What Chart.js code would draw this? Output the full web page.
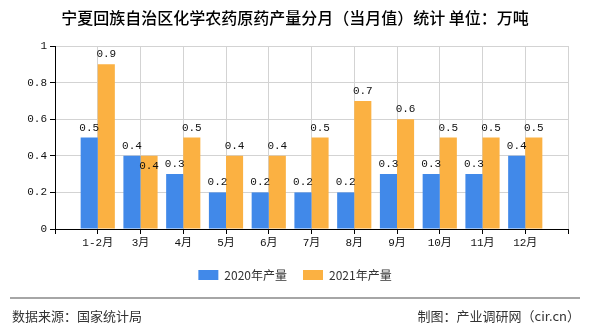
<!DOCTYPE html>
<html>
<head>
<meta charset="utf-8">
<script src="https://cdn.jsdelivr.net/npm/chart.js@4.4.0/dist/chart.umd.min.js"></script>
<style>
  html, body { margin: 0; padding: 0; background: #fff; }
  #wrap { width: 590px; height: 330px; position: relative; }
</style>
</head>
<body>
<div id="wrap"><canvas id="chart" width="590" height="330"></canvas></div>
<script>
// categories, padded with an empty slot at each end like the original
var months = ['1-2月', '3月', '4月', '5月', '6月', '7月', '8月', '9月', '10月', '11月', '12月'];
var output2020 = [0.5, 0.4, 0.3, 0.2, 0.2, 0.2, 0.2, 0.3, 0.3, 0.3, 0.4];
var output2021 = [0.9, 0.4, 0.5, 0.4, 0.4, 0.5, 0.7, 0.6, 0.5, 0.5, 0.5];
var yTicks = [0, 0.2, 0.4, 0.6, 0.8, 1];

var titleText = '宁夏回族自治区化学农药原药产量分月（当月值）统计 单位：万吨';
var sourceText = '数据来源：国家统计局';
var makerText = '制图：产业调研网（cir.cn）';

var labels = [''].concat(months, ['']);
function pad(arr) { return [null].concat(arr, [null]); }

var cjk = '"Noto Sans CJK SC", sans-serif';
var mono = '"Liberation Mono", "Noto Sans CJK SC", monospace';

var decorPlugin = {
    id: 'decor',
    beforeDraw: function(chart) {
        var ctx = chart.ctx;
        ctx.save();
        ctx.fillStyle = '#fff';
        ctx.fillRect(0, 0, chart.width, chart.height);
        ctx.fillStyle = '#000';
        ctx.font = '500 16px ' + cjk;
        ctx.textAlign = 'center';
        ctx.textBaseline = 'middle';
        ctx.fillText(titleText, 295, 18);

        ctx.strokeStyle = '#888';
        ctx.lineWidth = 1.5;
        ctx.beginPath();
        ctx.moveTo(10, 298);
        ctx.lineTo(580, 298);
        ctx.stroke();

        ctx.fillStyle = '#333';
        ctx.font = '13px ' + cjk;
        ctx.textAlign = 'left';
        ctx.fillText(sourceText, 12, 316);
        ctx.textAlign = 'right';
        ctx.fillText(makerText, 580, 316);
        ctx.restore();
    }
};

var valueLabels = {
    id: 'valueLabels',
    afterDatasetsDraw: function(chart) {
        var ctx = chart.ctx;
        ctx.save();
        ctx.fillStyle = '#111';
        ctx.font = '11px ' + mono;
        ctx.textAlign = 'center';
        ctx.textBaseline = 'alphabetic';
        chart.data.datasets.forEach(function(ds, di) {
            var meta = chart.getDatasetMeta(di);
            meta.data.forEach(function(bar, i) {
                var v = ds.data[i];
                if (v == null) return;
                var y = bar.y - 7;
                // same value as the other series: label goes just inside the bar
                if (di > 0 && chart.data.datasets[0].data[i] === v) y = bar.y + 13;
                ctx.fillText(v.toFixed(1), bar.x, y);
            });
        });
        ctx.restore();
    }
};

var ctx = document.getElementById('chart');
var chart = new Chart(ctx, {
    type: 'bar',
    data: {
        labels: labels,
        datasets: [
            {
                label: '2020年产量',
                data: pad(output2020),
                backgroundColor: '#4189E9',
                categoryPercentage: 0.8,
                barPercentage: 1.0
            },
            {
                label: '2021年产量',
                data: pad(output2021),
                backgroundColor: '#FBB142',
                categoryPercentage: 0.8,
                barPercentage: 1.0
            }
        ]
    },
    options: {
        responsive: false,
        animation: false,
        layout: { padding: { left: 0, right: 0, top: 46, bottom: 39 } },
        plugins: {
            legend: {
                position: 'bottom',
                labels: {
                    boxWidth: 20,
                    boxHeight: 10,
                    padding: 16,
                    color: '#333',
                    font: { size: 12, family: cjk }
                }
            },
            tooltip: { enabled: false }
        },
        scales: {
            x: {
                type: 'category',
                offset: false,
                afterFit: function(s) { s.height = 24; s.paddingRight = 22; },
                grid: {
                    offset: false,
                    color: '#d3d3d3',
                    tickColor: '#000',
                    tickLength: 5
                },
                border: { color: '#000', width: 1 },
                ticks: {
                    color: '#111',
                    padding: 2,
                    maxRotation: 0,
                    autoSkip: false,
                    font: { size: 11, family: mono }
                }
            },
            y: {
                min: 0,
                max: 1,
                afterFit: function(s) { s.width = 55; },
                afterBuildTicks: function(s) {
                    s.ticks = yTicks.map(function(v) { return { value: v }; });
                },
                grid: {
                    color: '#d3d3d3',
                    tickColor: '#000',
                    tickLength: 5
                },
                border: { color: '#000', width: 1 },
                ticks: {
                    color: '#111',
                    padding: 3,
                    font: { size: 11, family: mono },
                    callback: function(v) { return String(Math.round(v * 10) / 10); }
                }
            }
        }
    },
    plugins: [decorPlugin, valueLabels]
});
</script>
</body>
</html>
